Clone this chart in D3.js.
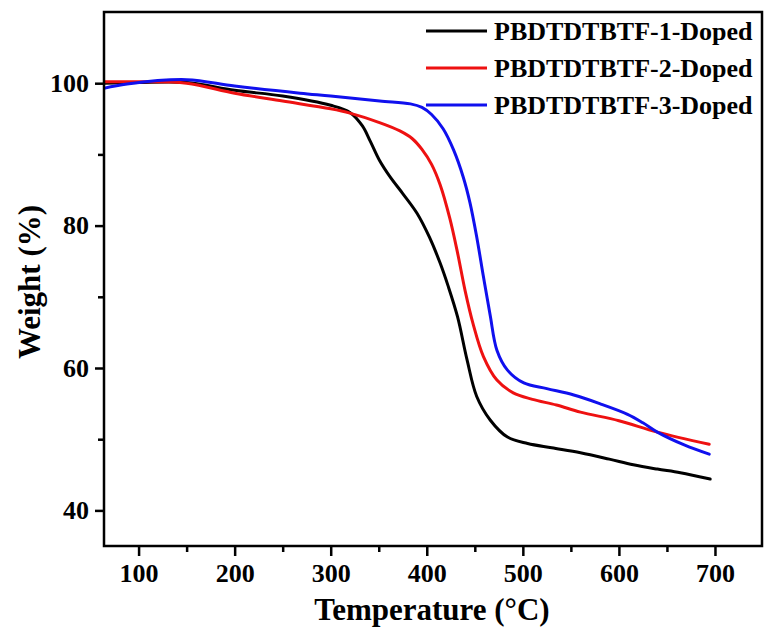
<!DOCTYPE html>
<html>
<head>
<meta charset="utf-8">
<script src="https://cdn.jsdelivr.net/npm/d3@7"></script>
<style>
  html, body { margin: 0; padding: 0; background: #fff; }
  svg { display: block; }
  text { font-family: "Liberation Serif", "Times New Roman", serif; font-weight: bold; fill: #000; }
</style>
</head>
<body>
<svg id="chart" width="764" height="630"></svg>
<script>
// TGA traces: temperature (°C) and remaining weight (%)
const seriesNames = ["PBDTDTBTF-1-Doped", "PBDTDTBTF-2-Doped", "PBDTDTBTF-3-Doped"];
const seriesColors = ["#000000", "#ee1111", "#1010ee"];

const temp1 = [64, 100, 150, 200, 250, 300, 320, 333, 341, 351, 362, 375, 390, 403, 414, 422, 432, 442, 452, 466, 484, 505, 530, 560, 590, 615, 640, 664, 695];
const weight1 = [100.0, 100.1, 100.1, 99.0, 98.2, 96.9, 95.9, 94.0, 91.9, 89.1, 86.8, 84.5, 81.7, 78.3, 74.7, 71.6, 67.2, 61.1, 56.0, 52.7, 50.3, 49.4, 48.8, 48.1, 47.2, 46.4, 45.8, 45.3, 44.4];

const temp2 = [64, 100, 150, 200, 250, 300, 320, 350, 372, 385, 395, 405, 414, 424, 432, 440, 448, 459, 473, 490, 510, 535, 560, 600, 640, 694];
const weight2 = [100.2, 100.2, 100.0, 98.6, 97.5, 96.4, 95.8, 94.5, 93.3, 92.2, 90.7, 88.6, 85.7, 81.0, 76.2, 70.8, 66.3, 61.6, 58.3, 56.5, 55.6, 54.8, 53.8, 52.6, 51.0, 49.3];

const temp3 = [64, 88, 150, 200, 268, 300, 351, 383, 395, 405, 417, 428, 438, 445, 452, 459, 466, 473, 484, 501, 525, 553, 580, 609, 625, 640, 668, 694];
const weight3 = [99.3, 99.9, 100.5, 99.6, 98.6, 98.2, 97.5, 97.1, 96.6, 95.6, 93.6, 90.6, 86.8, 83.2, 78.4, 72.8, 67.4, 62.5, 59.7, 57.9, 57.1, 56.2, 55.0, 53.5, 52.3, 51.0, 49.2, 47.9];

const xTicks = [100, 200, 300, 400, 500, 600, 700];
const xMinorTicks = [150, 250, 350, 450, 550, 650];
const yTicks = [40, 60, 80, 100];
const yMinorTicks = [50, 70, 90];

const xLabel = "Temperature (\u00B0C)";
const yLabel = "Weight (%)";

const temps = [temp1, temp2, temp3];
const weights = [weight1, weight2, weight3];
const series = seriesNames.map((name, i) => ({
  name,
  color: seriesColors[i],
  values: temps[i].map((t, j) => ({ t, w: weights[i][j] }))
}));

const svg = d3.select("#chart");
const margin = { left: 104, top: 12, right: 1, bottom: 84 };
const W = 764, H = 630;
const x = d3.scaleLinear().domain([64, 750]).range([margin.left, W - margin.right]);
const y = d3.scaleLinear().domain([35, 110]).range([H - margin.bottom, margin.top]);

// curves
const line = d3.line().x(d => x(d.t)).y(d => y(d.w)).curve(d3.curveCatmullRom.alpha(0.5));
const clipId = "plotclip";
svg.append("clipPath").attr("id", clipId).append("rect")
  .attr("x", x.range()[0]).attr("y", y.range()[1])
  .attr("width", x.range()[1] - x.range()[0]).attr("height", y.range()[0] - y.range()[1]);

const plot = svg.append("g").attr("clip-path", `url(#${clipId})`);
series.forEach(s => {
  plot.append("path")
    .datum(s.values)
    .attr("d", line)
    .attr("fill", "none")
    .attr("stroke", s.color)
    .attr("stroke-width", 3)
    .attr("stroke-linejoin", "round")
    .attr("stroke-linecap", "round");
});

// axes
const axisStroke = 2.5;
const xAxis = svg.append("g").attr("transform", `translate(0,${y.range()[0]})`)
  .call(d3.axisBottom(x).tickValues(xTicks).tickSize(10).tickPadding(8).tickFormat(d3.format("d")));
const xMinor = svg.append("g").attr("transform", `translate(0,${y.range()[0]})`)
  .call(d3.axisBottom(x).tickValues(xMinorTicks).tickSize(6).tickFormat(""));
const yAxis = svg.append("g").attr("transform", `translate(${x.range()[0]},0)`)
  .call(d3.axisLeft(y).tickValues(yTicks).tickSize(9).tickPadding(6).tickFormat(d3.format("d")));
const yMinor = svg.append("g").attr("transform", `translate(${x.range()[0]},0)`)
  .call(d3.axisLeft(y).tickValues(yMinorTicks).tickSize(6).tickFormat(""));

[xAxis, xMinor, yAxis, yMinor].forEach(g => {
  g.select(".domain").remove();
  g.selectAll("line").attr("stroke", "#000").attr("stroke-width", axisStroke);
  g.selectAll("text").style("font-size", "26px").attr("fill", "#000");
});
xAxis.selectAll("text").attr("dy", "0.71em");

// frame
svg.append("rect")
  .attr("x", x.range()[0]).attr("y", y.range()[1])
  .attr("width", x.range()[1] - x.range()[0] - 1).attr("height", y.range()[0] - y.range()[1])
  .attr("fill", "none").attr("stroke", "#000").attr("stroke-width", axisStroke);

// axis titles
svg.append("text")
  .attr("x", 432).attr("y", 620)
  .attr("text-anchor", "middle")
  .style("font-size", "31px")
  .text(xLabel);
svg.append("text")
  .attr("transform", `translate(40,282) rotate(-90)`)
  .attr("text-anchor", "middle")
  .style("font-size", "31px")
  .text(yLabel);

// legend
const legend = svg.append("g");
series.forEach((s, i) => {
  const ly = 31 + i * 37;
  legend.append("line")
    .attr("x1", 426).attr("x2", 487).attr("y1", ly).attr("y2", ly)
    .attr("stroke", s.color).attr("stroke-width", 3);
  legend.append("text")
    .attr("x", 494).attr("y", ly + 9)
    .style("font-size", "26px")
    .text(s.name);
});
</script>
</body>
</html>
